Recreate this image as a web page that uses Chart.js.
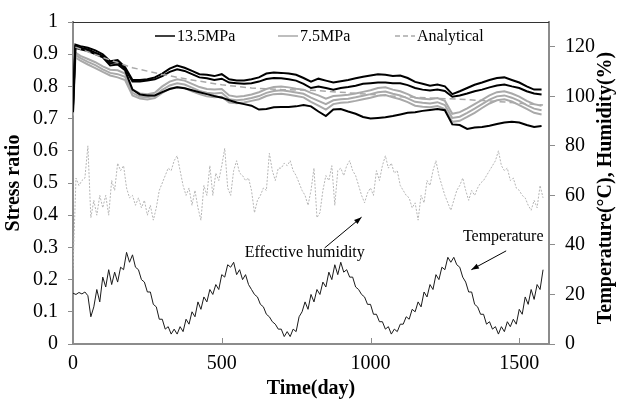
<!DOCTYPE html>
<html>
<head>
<meta charset="utf-8">
<script src="https://cdn.jsdelivr.net/npm/chart.js@4.4.1/dist/chart.umd.min.js"></script>
<style>
  body { margin: 0; background: #fff; }
  #boite { width: 618px; height: 403px; position: relative; }
</style>
</head>
<body>
<div id="boite"><canvas id="stresschart"></canvas></div>
<script>
const ctx = document.getElementById("stresschart").getContext("2d");

// graduations
const timeTicks = [0, 500, 1000, 1500];
const climateTicks = [0, 20, 40, 60, 80, 100, 120];

// jours des mesures de contrainte
const stressDays = [0, 8, 25, 50, 75, 100, 125, 150, 175, 200,
  225, 250, 275, 300, 325, 350, 375, 400, 425, 450,
  475, 500, 525, 550, 575, 600, 625, 650, 675, 700,
  725, 750, 775, 800, 825, 850, 875, 900, 925, 950,
  975, 1000, 1025, 1050, 1075, 1100, 1125, 1150, 1175, 1200,
  1225, 1250, 1275, 1300, 1325, 1350, 1375, 1400, 1425, 1450,
  1475, 1500, 1525, 1550, 1575];

// 13.5MPa (trois capteurs)
const black1 = [0.74, 0.93, 0.925, 0.92, 0.912, 0.90, 0.878, 0.882, 0.86, 0.82,
  0.82, 0.822, 0.828, 0.84, 0.855, 0.865, 0.858, 0.848, 0.838, 0.836,
  0.832, 0.838, 0.822, 0.818, 0.818, 0.822, 0.828, 0.84, 0.843, 0.842,
  0.84, 0.836, 0.826, 0.815, 0.824, 0.818, 0.812, 0.816, 0.82, 0.825,
  0.83, 0.834, 0.838, 0.836, 0.832, 0.834, 0.826, 0.814, 0.808, 0.802,
  0.806, 0.80, 0.776, 0.785, 0.795, 0.805, 0.812, 0.82, 0.826, 0.828,
  0.82, 0.812, 0.80, 0.79, 0.79];
const black2 = [0.74, 0.925, 0.92, 0.915, 0.905, 0.895, 0.872, 0.875, 0.855, 0.815,
  0.815, 0.818, 0.822, 0.832, 0.845, 0.853, 0.848, 0.838, 0.828, 0.825,
  0.82, 0.824, 0.812, 0.81, 0.808, 0.81, 0.815, 0.823, 0.826, 0.825,
  0.822, 0.818, 0.808, 0.795, 0.80, 0.795, 0.79, 0.795, 0.798, 0.802,
  0.808, 0.81, 0.812, 0.812, 0.81, 0.81, 0.804, 0.795, 0.79, 0.787,
  0.79, 0.786, 0.768, 0.772, 0.778, 0.785, 0.79, 0.797, 0.803, 0.806,
  0.80, 0.795, 0.785, 0.778, 0.775];
const black3 = [0.72, 0.92, 0.915, 0.91, 0.90, 0.89, 0.865, 0.868, 0.85, 0.79,
  0.775, 0.772, 0.772, 0.782, 0.792, 0.797, 0.794, 0.788, 0.782, 0.776,
  0.77, 0.765, 0.757, 0.75, 0.745, 0.74, 0.728, 0.73, 0.735, 0.736,
  0.736, 0.738, 0.742, 0.738, 0.722, 0.708, 0.728, 0.73, 0.722, 0.715,
  0.705, 0.70, 0.702, 0.704, 0.708, 0.713, 0.718, 0.72, 0.724, 0.727,
  0.73, 0.726, 0.682, 0.68, 0.668, 0.672, 0.674, 0.678, 0.683, 0.688,
  0.69, 0.688, 0.68, 0.674, 0.677];

// 7.5MPa (trois capteurs)
const gray1 = [0.73, 0.905, 0.895, 0.885, 0.875, 0.862, 0.852, 0.85, 0.84, 0.79,
  0.778, 0.776, 0.78, 0.80, 0.815, 0.822, 0.818, 0.808, 0.798, 0.792,
  0.79, 0.792, 0.772, 0.768, 0.77, 0.775, 0.782, 0.792, 0.798, 0.80,
  0.797, 0.793, 0.79, 0.78, 0.772, 0.762, 0.77, 0.772, 0.774, 0.778,
  0.783, 0.788, 0.795, 0.797, 0.79, 0.785, 0.776, 0.765, 0.762, 0.76,
  0.764, 0.755, 0.715, 0.72, 0.732, 0.745, 0.758, 0.772, 0.782, 0.785,
  0.778, 0.768, 0.755, 0.745, 0.74];
const gray2 = [0.72, 0.898, 0.888, 0.876, 0.866, 0.853, 0.842, 0.838, 0.83, 0.78,
  0.768, 0.766, 0.771, 0.789, 0.803, 0.81, 0.806, 0.796, 0.786, 0.78,
  0.778, 0.78, 0.76, 0.757, 0.759, 0.764, 0.77, 0.78, 0.786, 0.788,
  0.785, 0.781, 0.777, 0.765, 0.755, 0.745, 0.757, 0.76, 0.762, 0.766,
  0.771, 0.776, 0.782, 0.784, 0.777, 0.772, 0.763, 0.752, 0.749, 0.747,
  0.751, 0.742, 0.702, 0.706, 0.718, 0.731, 0.745, 0.759, 0.769, 0.772,
  0.765, 0.755, 0.742, 0.731, 0.726];
const gray3 = [0.71, 0.89, 0.88, 0.868, 0.857, 0.845, 0.834, 0.828, 0.82, 0.772,
  0.762, 0.759, 0.764, 0.78, 0.793, 0.798, 0.795, 0.785, 0.776, 0.769,
  0.766, 0.768, 0.75, 0.748, 0.75, 0.755, 0.76, 0.77, 0.776, 0.777,
  0.774, 0.77, 0.766, 0.752, 0.74, 0.728, 0.745, 0.749, 0.751, 0.755,
  0.76, 0.765, 0.771, 0.773, 0.766, 0.76, 0.751, 0.74, 0.737, 0.735,
  0.739, 0.73, 0.69, 0.693, 0.705, 0.718, 0.733, 0.747, 0.757, 0.76,
  0.753, 0.742, 0.73, 0.718, 0.713];

// analytique
const analyticDays = [8, 100, 200, 300, 400, 500, 600, 700, 800, 900, 1000, 1100, 1200, 1300, 1400, 1500, 1580];
const analytic = [0.922, 0.89, 0.858, 0.837, 0.82, 0.805, 0.795, 0.79, 0.788, 0.782, 0.775, 0.768, 0.764, 0.76, 0.755, 0.748, 0.742];

// climat (axe de droite)
const climateDays = [0, 10, 20, 30, 40, 50, 60, 70, 80, 90,
  100, 110, 120, 130, 140, 150, 160, 170, 180, 190,
  200, 210, 220, 230, 240, 250, 260, 270, 280, 290,
  300, 310, 320, 330, 340, 350, 360, 370, 380, 390,
  400, 410, 420, 430, 440, 450, 460, 470, 480, 490,
  500, 510, 520, 530, 540, 550, 560, 570, 580, 590,
  600, 610, 620, 630, 640, 650, 660, 670, 680, 690,
  700, 710, 720, 730, 740, 750, 760, 770, 780, 790,
  800, 810, 820, 830, 840, 850, 860, 870, 880, 890,
  900, 910, 920, 930, 940, 950, 960, 970, 980, 990,
  1000, 1010, 1020, 1030, 1040, 1050, 1060, 1070, 1080, 1090,
  1100, 1110, 1120, 1130, 1140, 1150, 1160, 1170, 1180, 1190,
  1200, 1210, 1220, 1230, 1240, 1250, 1260, 1270, 1280, 1290,
  1300, 1310, 1320, 1330, 1340, 1350, 1360, 1370, 1380, 1390,
  1400, 1410, 1420, 1430, 1440, 1450, 1460, 1470, 1480, 1490,
  1500, 1510, 1520, 1530, 1540, 1550, 1560, 1570, 1580];
const temperature = [20.5, 20, 20.8, 20.2, 21, 19.5, 11, 15, 22, 17,
  27, 23, 30, 24, 29, 25, 31, 30, 37, 33,
  36, 31, 30, 26, 25, 21, 21, 16, 15, 10,
  10, 6, 7, 4, 6, 4, 7, 5, 10, 8,
  13, 11, 17, 14, 19, 17, 22, 20, 24, 22,
  28, 27, 32, 31, 33, 28, 30, 26, 28, 24,
  22, 20, 19, 16, 15, 12, 11, 9, 8, 6,
  6, 3, 5, 3, 6, 5, 11, 13, 17, 14,
  20, 17, 22, 20, 25, 23, 29, 26, 32, 28,
  33, 29, 30, 27, 27, 23, 22, 20, 19, 16,
  16, 12, 12, 9, 9, 6, 7, 4, 6, 5,
  8, 8, 11, 10, 14, 13, 17, 15, 21, 19,
  24, 22, 28, 26, 31, 30, 35, 33, 35, 32,
  31, 27, 25, 21, 21, 16, 15, 12, 12, 8,
  9, 6, 7, 4, 7, 5, 9, 7, 10, 8,
  14, 12, 19, 16, 22, 18, 24, 22, 30];
const humidity = [30, 67, 64, 66, 67, 80, 51, 58, 52, 60,
  55, 60, 52, 66, 62, 73, 70, 72, 63, 59,
  60, 56, 59, 55, 58, 52, 56, 50, 55, 62,
  65, 68, 71, 70, 74, 76, 70, 64, 60, 63,
  56, 62, 55, 50, 64, 60, 72, 60, 69, 66,
  72, 79, 63, 60, 70, 74, 69, 68, 66, 67,
  62, 53, 58, 60, 63, 62, 77, 70, 66, 71,
  71, 73, 72, 74, 70, 68, 65, 62, 60, 56,
  62, 71, 51, 53, 62, 68, 66, 72, 56, 70,
  71, 68, 72, 74, 70, 68, 64, 60, 57, 61,
  63, 60, 70, 66, 72, 76, 71, 73, 69, 70,
  64, 62, 60, 59, 55, 57, 50, 60, 57, 66,
  64, 70, 74, 68, 64, 60, 57, 54, 58, 62,
  64, 67, 62, 58, 62, 60, 63, 65, 66, 68,
  70, 72, 74, 78, 72, 70, 71, 66, 67, 63,
  62, 60, 59, 56, 54, 58, 55, 64, 59];

const rightTitle = "Temperature(\u00B0C), Humidity(%)";
const serif = "'Liberation Serif', 'Times New Roman', serif";

function pts(xs, ys) {
  return ys.map((v, i) => ({ x: xs[i], y: v }));
}

function ligne(label, xs, ys, color, width, dash, axis, order) {
  return {
    label: label,
    data: pts(xs, ys),
    borderColor: color,
    backgroundColor: color,
    borderWidth: width,
    borderDash: dash,
    yAxisID: axis,
    order: order,
    pointRadius: 0,
    tension: 0,
    fill: false,
  };
}

const BLACK = "#000000", GRAY = "#a9a9a9";

// legende + annotations + cadre
const habillage = {
  id: "habillage",
  afterDraw(chart) {
    const c = chart.ctx, a = chart.chartArea;
    const xs = chart.scales.x, yr = chart.scales.yR;
    c.save();
    c.strokeStyle = "#333";
    c.lineWidth = 1;
    c.beginPath();
    c.moveTo(a.left, a.top + 0.5);
    c.lineTo(a.right, a.top + 0.5);
    c.stroke();

    c.strokeStyle = "#8c8c8c";
    xs.ticks.forEach((t) => {
      const px = Math.round(xs.getPixelForValue(t.value)) + 0.5;
      c.beginPath();
      c.moveTo(px, a.bottom);
      c.lineTo(px, a.bottom - 6);
      c.stroke();
    });

    // legende
    const ly = a.top + 14;
    const items = [
      { t: "13.5MPa", col: BLACK, dash: [], x: 82 },
      { t: "7.5MPa", col: GRAY, dash: [], x: 205 },
      { t: "Analytical", col: GRAY, dash: [5, 3], x: 322 },
    ];
    c.font = "16px " + serif;
    c.textBaseline = "middle";
    c.textAlign = "left";
    items.forEach((it) => {
      c.strokeStyle = it.col;
      c.lineWidth = 1.5;
      c.setLineDash(it.dash);
      c.beginPath();
      c.moveTo(a.left + it.x, ly);
      c.lineTo(a.left + it.x + 20, ly);
      c.stroke();
      c.setLineDash([]);
      c.fillStyle = "#000";
      c.fillText(it.t, a.left + it.x + 22, ly + 1);
    });

    // annotations
    const notes = [
      { t: "Effective humidity", at: [779, 36.8], from: [846, 38.8], to: [970, 51.2] },
      { t: "Temperature", at: [1446, 43.2], from: [1456, 37.6], to: [1339, 30] },
    ];
    c.textAlign = "center";
    notes.forEach((n) => {
      c.fillStyle = "#000";
      c.fillText(n.t, xs.getPixelForValue(n.at[0]), yr.getPixelForValue(n.at[1]));
      const x1 = xs.getPixelForValue(n.from[0]), y1 = yr.getPixelForValue(n.from[1]);
      const x2 = xs.getPixelForValue(n.to[0]), y2 = yr.getPixelForValue(n.to[1]);
      c.strokeStyle = "#000";
      c.lineWidth = 1;
      c.beginPath();
      c.moveTo(x1, y1);
      c.lineTo(x2, y2);
      c.stroke();
      const ang = Math.atan2(y2 - y1, x2 - x1);
      c.beginPath();
      c.moveTo(x2, y2);
      c.lineTo(x2 - 8 * Math.cos(ang - 0.35), y2 - 8 * Math.sin(ang - 0.35));
      c.lineTo(x2 - 8 * Math.cos(ang + 0.35), y2 - 8 * Math.sin(ang + 0.35));
      c.closePath();
      c.fill();
    });

    // titre axe droit
    c.translate(606, (a.top + a.bottom) / 2 + 5);
    c.rotate(-Math.PI / 2);
    c.font = "bold 20px " + serif;
    c.fillText(rightTitle, 0, 0);
    c.restore();
  },
};

Chart.defaults.font.family = serif;
Chart.defaults.color = "#000";

const my_chart = new Chart(ctx, {
  type: "line",
  data: {
    datasets: [
      ligne("Analytical", analyticDays, analytic, GRAY, 1.5, [6, 4], "y", 0),
      ligne("13.5MPa", stressDays, black1, BLACK, 2, [], "y", 1),
      ligne("13.5MPa", stressDays, black2, BLACK, 2, [], "y", 1),
      ligne("13.5MPa", stressDays, black3, BLACK, 2, [], "y", 1),
      ligne("7.5MPa", stressDays, gray1, GRAY, 2, [], "y", 2),
      ligne("7.5MPa", stressDays, gray2, GRAY, 2, [], "y", 2),
      ligne("7.5MPa", stressDays, gray3, GRAY, 2, [], "y", 2),
      ligne("Temperature", climateDays, temperature, "#1a1a1a", 1, [], "yR", 3),
      ligne("Effective humidity", climateDays, humidity, "#b5b5b5", 1, [2, 1.5], "yR", 4),
    ],
  },
  options: {
    responsive: true,
    maintainAspectRatio: false,
    animation: false,
    layout: { padding: { top: 19, left: 0, right: 0, bottom: 0 } },
    plugins: { legend: { display: false }, tooltip: { enabled: false } },
    scales: {
      x: {
        type: "linear",
        min: 0,
        max: 1600,
        afterBuildTicks: (s) => { s.ticks = timeTicks.map((v) => ({ value: v })); },
        afterFit: (s) => { s.height = 59; },
        ticks: { padding: 8, font: { size: 20 }, maxRotation: 0, autoSkip: false, callback: (v) => String(v) },
        grid: { drawOnChartArea: false, drawTicks: false, color: "#8c8c8c" },
        border: { color: "#8c8c8c", width: 2 },
        title: { display: true, text: "Time(day)", font: { size: 20, weight: "bold" }, padding: { top: 0, bottom: 2 } },
      },
      y: {
        position: "left",
        min: 0,
        max: 1,
        afterFit: (s) => { s.width = 73; },
        ticks: { stepSize: 0.1, padding: 10, font: { size: 20 }, callback: (v) => String(+v.toFixed(1)) },
        grid: { drawOnChartArea: false, tickLength: 5, color: "#8c8c8c" },
        border: { color: "#8c8c8c", width: 2 },
        title: { display: true, text: "Stress ratio", font: { size: 20, weight: "bold" }, padding: { top: 2, bottom: 0 } },
      },
      yR: {
        position: "right",
        min: 0,
        max: 130,
        afterBuildTicks: (s) => { s.ticks = climateTicks.map((v) => ({ value: v })); },
        afterFit: (s) => { s.width = 69; },
        ticks: { padding: 10, font: { size: 20 }, autoSkip: false },
        grid: { drawOnChartArea: false, tickLength: 6, color: "#8c8c8c" },
        border: { color: "#8c8c8c", width: 2 },
      },
    },
  },
  plugins: [habillage],
});
</script>
</body>
</html>
